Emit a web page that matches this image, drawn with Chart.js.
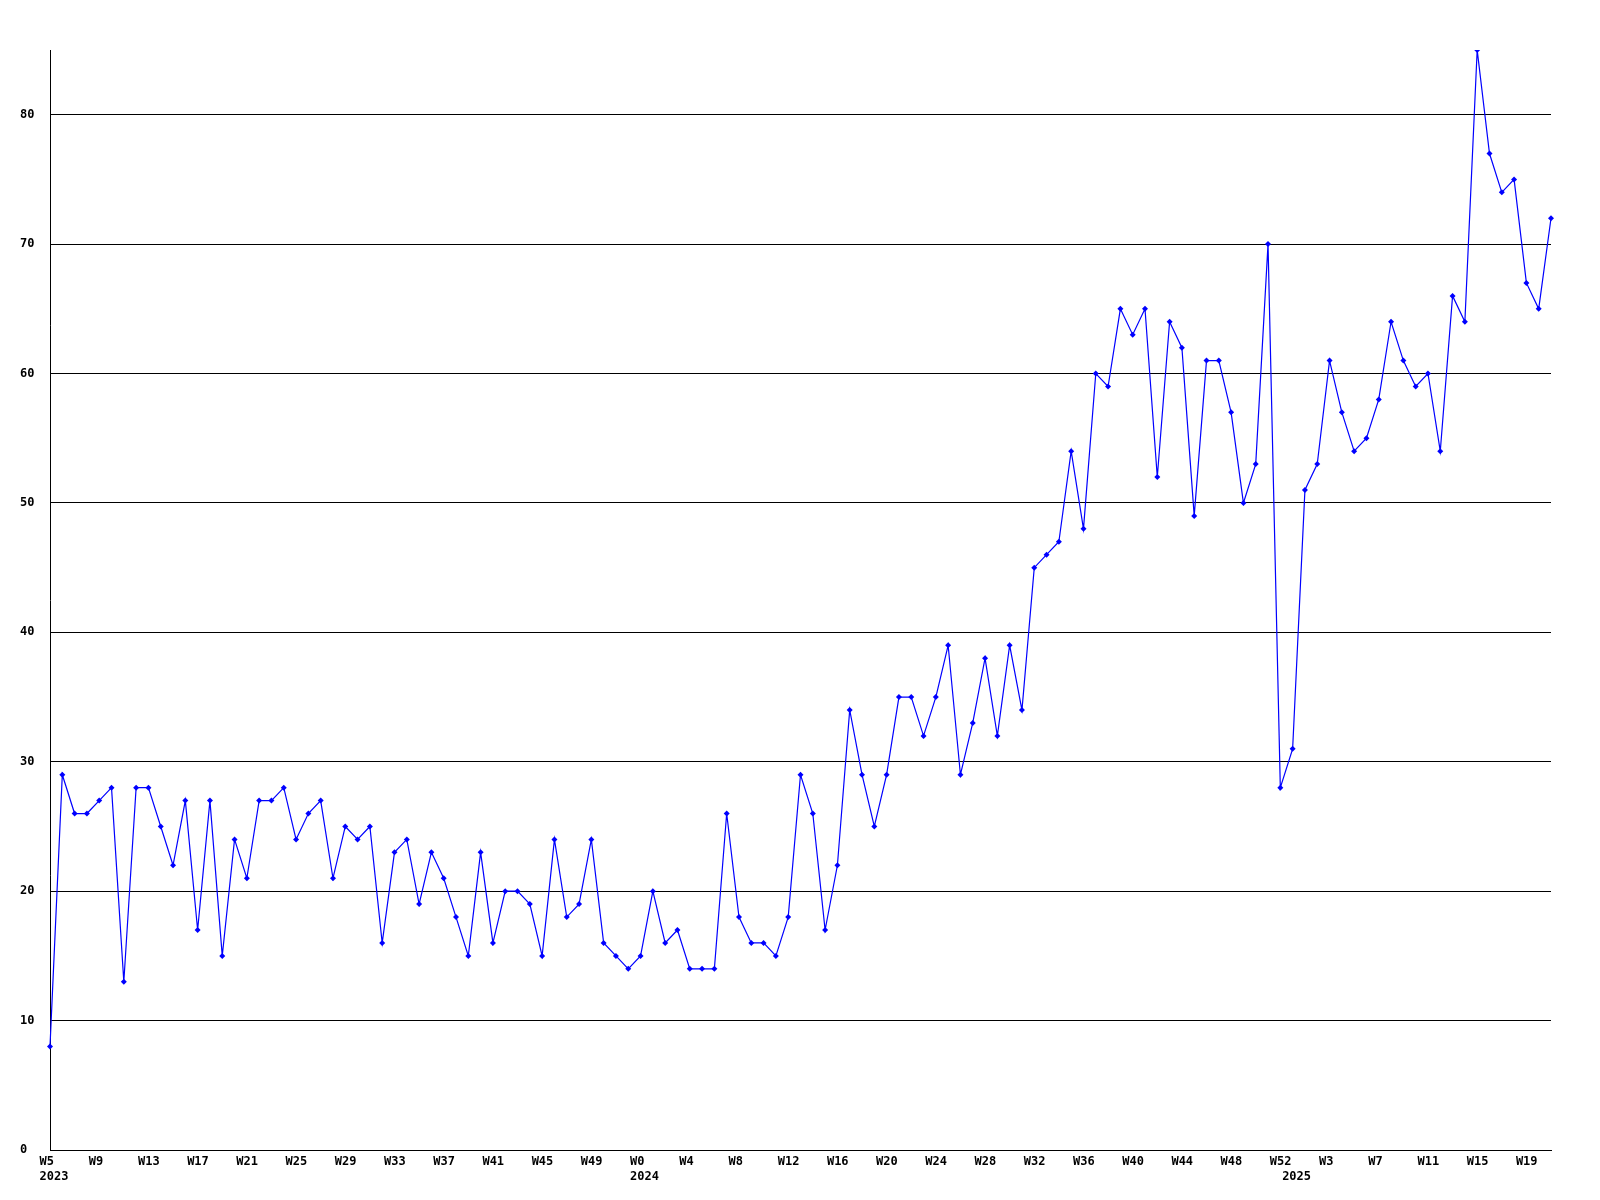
<!DOCTYPE html>
<html>
<head>
<meta charset="utf-8">
<script src="https://cdn.jsdelivr.net/npm/chart.js@4.4.1/dist/chart.umd.min.js"></script>
<style>
  html, body { margin: 0; padding: 0; background: #fff; }
  #wrap { width: 1600px; height: 1200px; position: relative; }
</style>
</head>
<body>
<div id="wrap"><canvas id="myChart"></canvas></div>
<script>
// weekly counts, split by year (week numbers start at firstWeek[i])
var years = [2023, 2024, 2025];
var firstWeek = [5, 0, 0];

var counts2023 = [8, 29, 26, 26, 27, 28, 13, 28, 28, 25, 22, 27, 17, 27, 15, 24,
  21, 27, 27, 28, 24, 26, 27, 21, 25, 24, 25, 16, 23, 24, 19, 23, 21, 18, 15, 23,
  16, 20, 20, 19, 15, 24, 18, 19, 24, 16, 15, 14];
var counts2024 = [15, 20, 16, 17, 14, 14, 14, 26, 18, 16, 16, 15, 18, 29, 26, 17,
  22, 34, 29, 25, 29, 35, 35, 32, 35, 39, 29, 33, 38, 32, 39, 34, 45, 46, 47, 54,
  48, 60, 59, 65, 63, 65, 52, 64, 62, 49, 61, 61, 57, 50, 53, 70, 28];
var counts2025 = [31, 51, 53, 61, 57, 54, 55, 58, 64, 61, 59, 60, 54, 66, 64, 85,
  77, 74, 75, 67, 65, 72];

var yMax = 85;
var yStep = 10;
var labelEvery = 4;

// build the category labels (W5, W6, ...) and remember where each year starts
var perYear = [counts2023, counts2024, counts2025];
var labels = [];
var data = [];
var yearStart = {};
for (var y = 0; y < years.length; y++) {
  yearStart[labels.length] = String(years[y]);
  for (var k = 0; k < perYear[y].length; k++) {
    labels.push('W' + (firstWeek[y] + k));
    data.push(perYear[y][k]);
  }
}

var font = { family: 'DejaVu Sans Mono', size: 12, weight: 'bold', lineHeight: '15px' };

var ctx = document.getElementById('myChart').getContext('2d');
var myChart = new Chart(ctx, {
  type: 'line',
  data: {
    labels: labels,
    datasets: [
      {
        data: data,
        borderColor: '#0000ff',
        backgroundColor: '#0000ff',
        borderWidth: 1.2,
        pointStyle: 'rectRot',
        pointRadius: 3,
        pointBorderWidth: 0,
        pointBackgroundColor: '#0000ff',
        tension: 0,
        fill: false,
      },
    ],
  },
  options: {
    responsive: true,
    maintainAspectRatio: false,
    animation: false,
    devicePixelRatio: 1,
    layout: { padding: { left: 20, top: 50, right: 49, bottom: 0 } },
    plugins: {
      legend: { display: false },
      tooltip: { enabled: false },
    },
    scales: {
      x: {
        type: 'category',
        offset: false,
        grid: { display: false, drawTicks: false },
        border: { display: true, color: '#000', width: 1 },
        ticks: {
          autoSkip: false,
          maxRotation: 0,
          minRotation: 0,
          align: 'start',
          labelOffset: -10.5,
          padding: 4,
          color: '#000',
          font: font,
          callback: function (value, index) {
            var yr = yearStart[index];
            if (index % labelEvery === 0) {
              return yr ? [labels[index], yr] : labels[index];
            }
            return yr ? ['', yr] : '';
          },
        },
        afterFit: function (scale) { scale.height = 50; },
      },
      y: {
        min: 0,
        max: yMax,
        grid: { color: '#000', lineWidth: 1, drawTicks: false },
        border: { display: true, color: '#000', width: 1 },
        ticks: {
          stepSize: yStep,
          includeBounds: false,
          crossAlign: 'far',
          padding: 8,
          color: '#000',
          font: font,
        },
        afterFit: function (scale) { scale.width = 30; },
      },
    },
  },
});
</script>
</body>
</html>
